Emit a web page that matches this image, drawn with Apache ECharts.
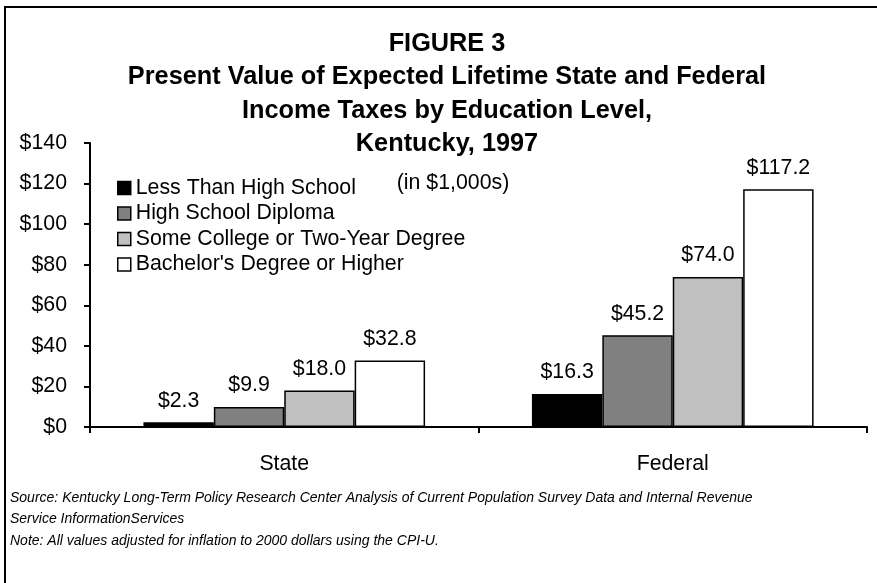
<!DOCTYPE html>
<html>
<head>
<meta charset="utf-8">
<script src="https://cdn.jsdelivr.net/npm/echarts@6/dist/echarts.min.js"></script>
<style>
html,body{margin:0;padding:0;background:#fff;}
#c{width:877px;height:583px;}
</style>
</head>
<body>
<div id="c"></div>
<script>
var categories = ['State', 'Federal'];
var seriesNames = ['Less Than High School', 'High School Diploma', 'Some College or Two-Year Degree', "Bachelor's Degree or Higher"];
var lessThanHS = [2.3, 16.3];
var hsDiploma = [9.9, 45.2];
var someCollege = [18.0, 74.0];
var bachelors = [32.8, 117.2];
var yTicks = [0, 20, 40, 60, 80, 100, 120, 140];

var colors = ['#000000', '#808080', '#c0c0c0', '#ffffff'];
var values = [lessThanHS, hsDiploma, someCollege, bachelors];
var FONT = 'Liberation Sans, Arial, sans-serif';
var FS = 21.3;

var chart = echarts.init(document.getElementById('c'), null, {renderer: 'canvas'});

var series = values.map(function (v, i) {
  return {
    name: seriesNames[i],
    type: 'bar',
    data: v,
    barGap: '0%',
    barCategoryGap: '27.5%',
    itemStyle: {color: colors[i], borderColor: '#000', borderWidth: 1.5},
    label: {
      show: true, position: 'top', distance: 11,
      color: '#000', fontFamily: FONT, fontSize: FS,
      formatter: function (p) { return '$' + p.value.toFixed(1); }
    }
  };
});

chart.setOption({
  animation: false,
  backgroundColor: '#fff',
  title: [
    {
      text: 'FIGURE 3\nPresent Value of Expected Lifetime State and Federal\nIncome Taxes by Education Level,\nKentucky, 1997',
      left: 442, top: 22, textAlign: 'center',
      textStyle: {fontFamily: FONT, fontWeight: 'bold', fontSize: 25.3, lineHeight: 33.5, color: '#000'}
    },
    {
      text: '(in $1,000s)',
      left: 448, top: 168, textAlign: 'center',
      textStyle: {fontFamily: FONT, fontWeight: 'normal', fontSize: FS, color: '#000'}
    }
  ],
  legend: {
    orient: 'vertical', left: 112, top: 172,
    itemWidth: 13, itemHeight: 13, itemGap: 3.5,
    icon: 'rect',
    textStyle: {fontFamily: FONT, fontSize: FS, lineHeight: 22, color: '#000'},
    data: seriesNames.map(function (n, i) {
      return {name: n, itemStyle: {color: colors[i], borderColor: '#000', borderWidth: 1.5}};
    })
  },
  grid: {left: 90, right: 10, top: 143, bottom: 156, containLabel: false},
  xAxis: {
    type: 'category', data: categories,
    axisLine: {show: true, lineStyle: {color: '#000', width: 2}},
    axisTick: {show: true, length: 6, lineStyle: {color: '#000', width: 2}},
    axisLabel: {fontFamily: FONT, fontSize: FS, color: '#000', margin: 27}
  },
  yAxis: {
    type: 'value', min: yTicks[0], max: yTicks[yTicks.length - 1], interval: 20,
    splitLine: {show: false},
    axisLine: {show: true, lineStyle: {color: '#000', width: 2}},
    axisTick: {show: true, length: 6, lineStyle: {color: '#000', width: 2}},
    axisLabel: {fontFamily: FONT, fontSize: FS, color: '#000', margin: 23,
      formatter: function (v) { return '$' + v; }}
  },
  graphic: [
    {type: 'rect', shape: {x: 5, y: 7, width: 1000, height: 1000}, style: {fill: 'none', stroke: '#000', lineWidth: 2}, silent: true},
    {type: 'text', left: 10, top: 487, style: {text: 'Source: Kentucky Long-Term Policy Research Center Analysis of Current Population Survey Data and Internal Revenue\nService InformationServices\nNote: All values adjusted for inflation to 2000 dollars using the CPI-U.', font: 'italic 14px Liberation Sans, Arial, sans-serif', lineHeight: 21.5, fill: '#000'}}
  ],
  series: series
});
</script>
</body>
</html>
